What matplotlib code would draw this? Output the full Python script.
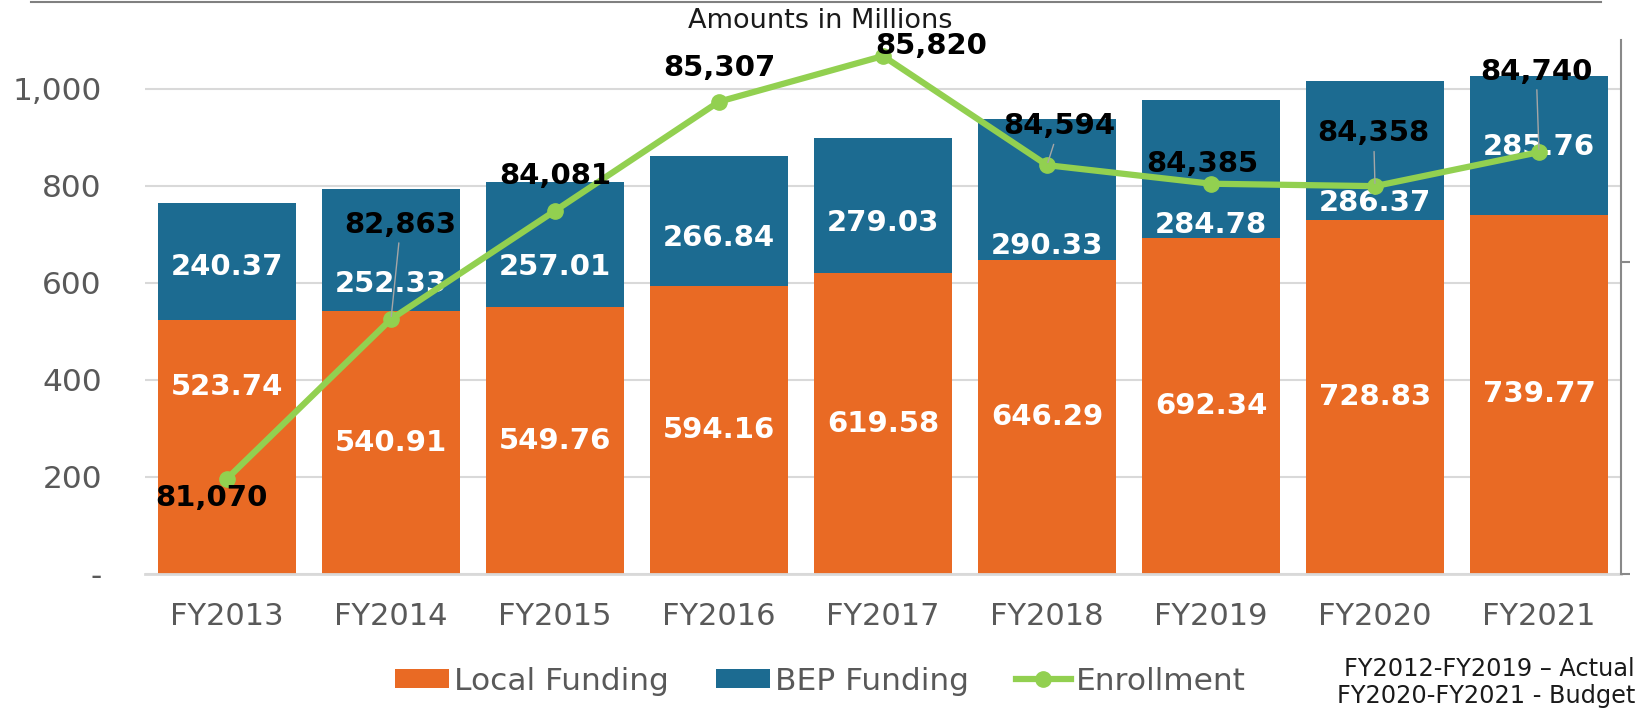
import matplotlib
matplotlib.use('Agg')
import matplotlib.pyplot as plt
from matplotlib.lines import Line2D
from matplotlib.ticker import FuncFormatter

# data (amounts in millions)
years = ['FY2013', 'FY2014', 'FY2015', 'FY2016', 'FY2017', 'FY2018', 'FY2019', 'FY2020', 'FY2021']
local_funding = [523.74, 540.91, 549.76, 594.16, 619.58, 646.29, 692.34, 728.83, 739.77]
bep_funding = [240.37, 252.33, 257.01, 266.84, 279.03, 290.33, 284.78, 286.37, 285.76]
enrollment = [81070, 82863, 84081, 85307, 85820, 84594, 84385, 84358, 84740]

# label placement (layout only)
bep_label_y = [633, 598, 633, 693, 723, 676, 719, 764, 880]
local_label_y = [386] + [v / 2 for v in local_funding[1:]]
enr_offsets = [(-11, -14), (7, 68), (0, 25), (0, 24), (35, 7), (9, 28), (-6, 14), (-1, 38), (-2, 58)]
enr_leader = [False, True, False, False, False, True, False, True, True]

ORANGE = '#E96A24'
BLUE = '#1C6B91'
GREEN = '#92D050'
GRAY = '#595959'

plt.rcParams['font.family'] = ['DejaVu Sans']

fig = plt.figure(figsize=(16.37, 7.15), dpi=100)
ax = fig.add_axes([145 / 1637, 1 - 574 / 715, (1621 - 145) / 1637, (574 - 40) / 715])

x = range(len(years))
ax.bar(x, local_funding, width=0.84, color=ORANGE, label='Local Funding', zorder=2)
ax.bar(x, bep_funding, width=0.84, bottom=local_funding, color=BLUE, label='BEP Funding', zorder=2)

for i in x:
    ax.text(i, local_label_y[i], f'{local_funding[i]:.2f}', ha='center', va='center',
            color='white', fontsize=21, fontweight='bold', zorder=3)
    ax.text(i, bep_label_y[i], f'{bep_funding[i]:.2f}', ha='center', va='center',
            color='white', fontsize=21, fontweight='bold', zorder=3)

ax.set_xlim(-0.5, len(years) - 0.5)
ax.set_ylim(0, 1100)
ax.set_yticks([0, 200, 400, 600, 800, 1000])
ax.yaxis.set_major_formatter(FuncFormatter(lambda v, p: '-' if v == 0 else f'{v:,.0f}'))
ax.set_xticks(list(x))
ax.set_xticklabels(years)
ax.tick_params(axis='y', length=0, pad=31, labelsize=22.5, labelcolor=GRAY)
ax.tick_params(axis='x', length=0, pad=20, labelsize=22, labelcolor=GRAY)
ax.grid(axis='y', color='#d9d9d9', linewidth=1.5)
ax.set_axisbelow(True)
for s in ['top', 'left', 'right']:
    ax.spines[s].set_visible(False)
ax.spines['bottom'].set_color('#d9d9d9')
ax.spines['bottom'].set_linewidth(2)

# enrollment on hidden secondary axis
ax2 = ax.twinx()
ax2.plot(x, enrollment, color=GREEN, linewidth=4.5, marker='o', markersize=11, zorder=4)
ax2.set_ylim(80000, 86000)
ax2.set_yticks([80000, 83500])
ax2.set_yticklabels([])
ax2.tick_params(axis='y', direction='out', length=6.5, width=1.5, color='#898989')
for s in ['top', 'left', 'bottom']:
    ax2.spines[s].set_visible(False)
ax2.spines['right'].set_color('#898989')
ax2.spines['right'].set_linewidth(1.5)

for i in x:
    arrow = dict(arrowstyle='-', color='#a6a6a6', lw=1, shrinkA=1, shrinkB=2) if enr_leader[i] else None
    ax2.annotate(f'{enrollment[i]:,}', (i, enrollment[i]), xytext=enr_offsets[i],
                 textcoords='offset points', ha='center', va='center', fontsize=21,
                 fontweight='bold', color='black', arrowprops=arrow, zorder=5)

fig.text(820 / 1637, 1 - 21 / 715, 'Amounts in Millions', ha='center', va='center',
         fontsize=19.5, color='#1a1a1a')

# top border line
fig.add_artist(Line2D([31 / 1637, 1601 / 1637], [1 - 1.5 / 715, 1 - 1.5 / 715],
                      color='#808080', linewidth=1.5))

handles, labels = ax.get_legend_handles_labels()
handles.append(Line2D([], [], color=GREEN, linewidth=4.5, marker='o', markersize=11))
labels.append('Enrollment')
fig.legend(handles, labels, loc='center', bbox_to_anchor=(820 / 1637, 1 - 681 / 715), ncol=3,
           frameon=False, fontsize=22.5, labelcolor=GRAY, handlelength=1.75, handleheight=0.6,
           handletextpad=0.15, columnspacing=1.5)

fig.text(1635 / 1637, 1 - 669 / 715, 'FY2012-FY2019 \u2013 Actual', ha='right', va='center',
         fontsize=17.3, color='#1a1a1a')
fig.text(1635 / 1637, 1 - 696 / 715, 'FY2020-FY2021 - Budget', ha='right', va='center',
         fontsize=17.3, color='#1a1a1a')

fig.savefig('out.png', dpi=100)
